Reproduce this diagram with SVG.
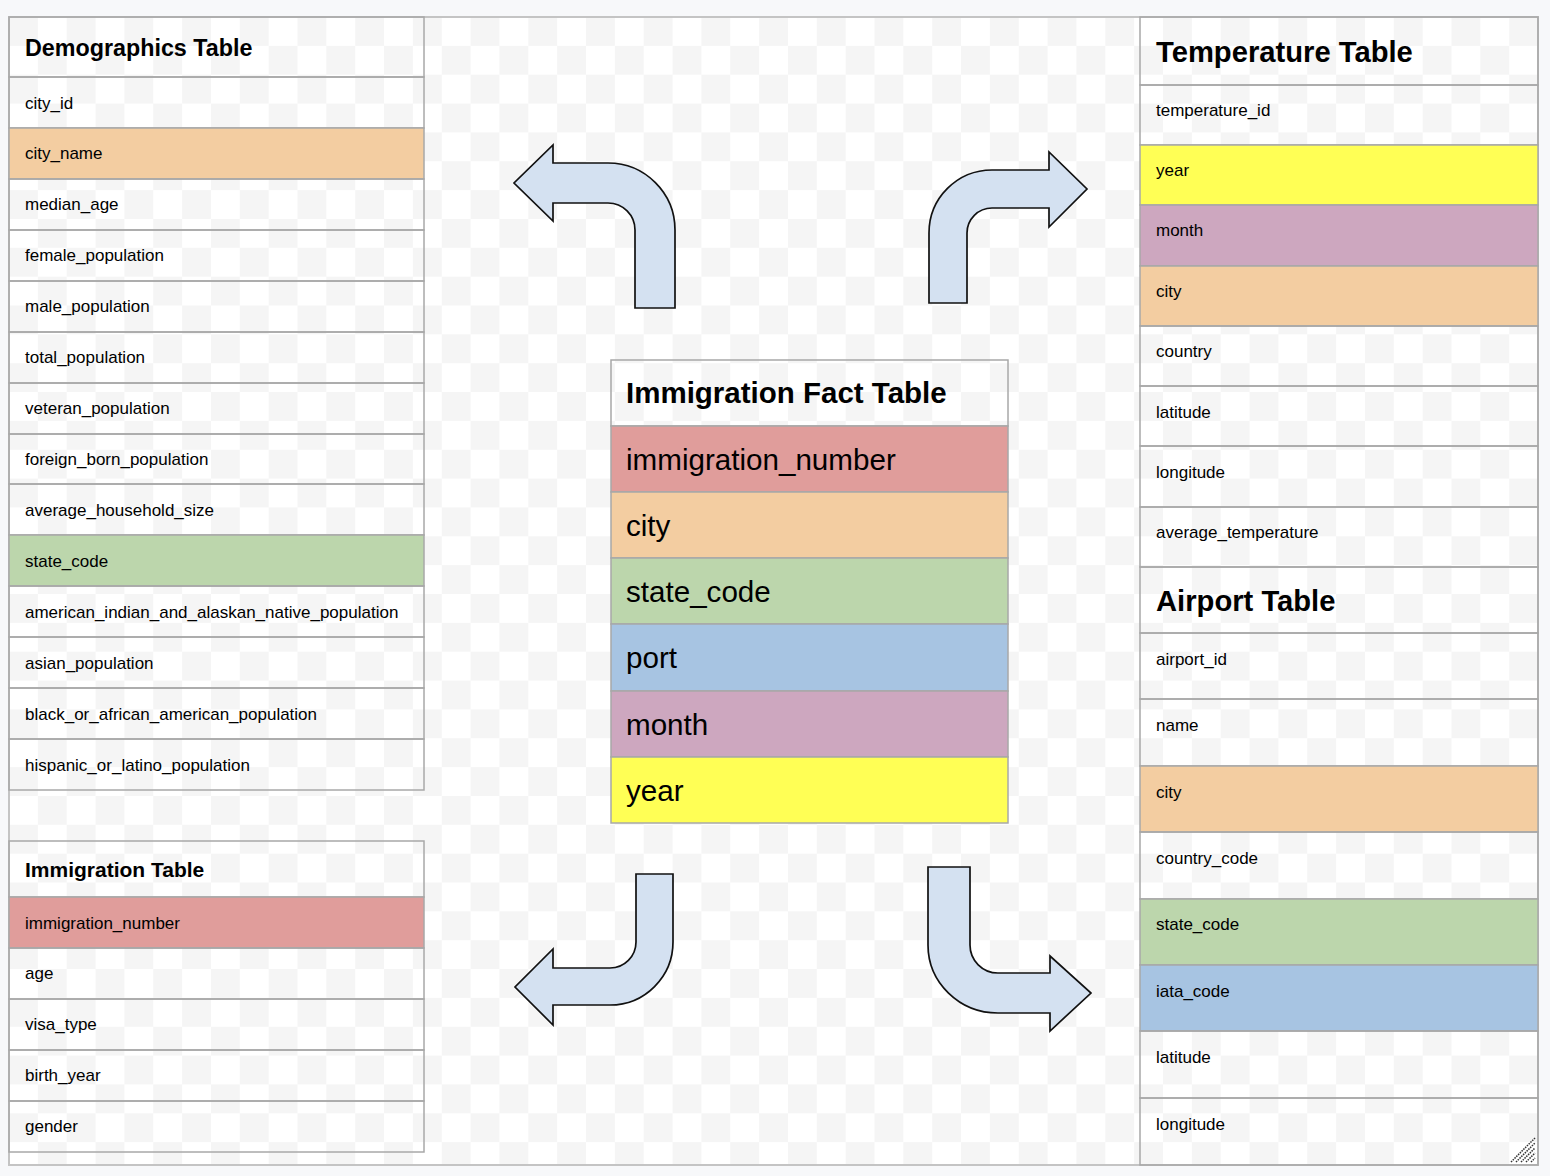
<svg xmlns="http://www.w3.org/2000/svg" width="1550" height="1176" viewBox="0 0 1550 1176">
<style>
.row{fill:none;stroke:#a8a8a8;stroke-width:1.5}
.hdr{fill:none;stroke:#a8a8a8;stroke-width:1.5}
.t{font-family:"Liberation Sans",Arial,sans-serif;fill:#000}
.f{font-size:17px}
.ff{font-size:29.6px}
.h{font-weight:bold}
.arrow{fill:#d4e1f1;stroke:#111;stroke-width:1.7;stroke-linejoin:miter}
.or{fill:#f3cda1}
.rd{fill:#e09d9b}
.gr{fill:#bcd6ac}
.bl{fill:#a7c4e2}
.pu{fill:#cda7bf}
.ye{fill:#ffff55}
</style>
<defs>
<pattern id="chk" patternUnits="userSpaceOnUse" x="9" y="17" width="57.7" height="57.7">
<rect width="57.7" height="57.7" fill="#ffffff"/>
<rect width="28.85" height="28.85" fill="#f5f5f5"/>
<rect x="28.85" y="28.85" width="28.85" height="28.85" fill="#f5f5f5"/>
</pattern>
</defs>
<rect width="1550" height="1176" fill="#f7f8fa"/>
<rect x="9" y="17" width="1529" height="1148" fill="url(#chk)" stroke="#c4c4c4" stroke-width="2"/>

<g id="demographics">
<rect class="hdr" x="9" y="17" width="415" height="60"/>
<text class="t h" x="25" y="56" font-size="23.3">Demographics Table</text>
<rect class="row" x="9" y="77" width="415" height="51"/>
<rect class="row or" x="9" y="128" width="415" height="51"/>
<rect class="row" x="9" y="179" width="415" height="51"/>
<rect class="row" x="9" y="230" width="415" height="51"/>
<rect class="row" x="9" y="281" width="415" height="51"/>
<rect class="row" x="9" y="332" width="415" height="51"/>
<rect class="row" x="9" y="383" width="415" height="51"/>
<rect class="row" x="9" y="434" width="415" height="50"/>
<rect class="row" x="9" y="484" width="415" height="51"/>
<rect class="row gr" x="9" y="535" width="415" height="51"/>
<rect class="row" x="9" y="586" width="415" height="51"/>
<rect class="row" x="9" y="637" width="415" height="51"/>
<rect class="row" x="9" y="688" width="415" height="51"/>
<rect class="row" x="9" y="739" width="415" height="51"/>
<text class="t f" x="25" y="109">city_id</text>
<text class="t f" x="25" y="159">city_name</text>
<text class="t f" x="25" y="210">median_age</text>
<text class="t f" x="25" y="261">female_population</text>
<text class="t f" x="25" y="312">male_population</text>
<text class="t f" x="25" y="363">total_population</text>
<text class="t f" x="25" y="414">veteran_population</text>
<text class="t f" x="25" y="465">foreign_born_population</text>
<text class="t f" x="25" y="516">average_household_size</text>
<text class="t f" x="25" y="567">state_code</text>
<text class="t f" x="25" y="618">american_indian_and_alaskan_native_population</text>
<text class="t f" x="25" y="669">asian_population</text>
<text class="t f" x="25" y="720">black_or_african_american_population</text>
<text class="t f" x="25" y="771">hispanic_or_latino_population</text>
</g>

<g id="immigration">
<rect class="hdr" x="9" y="841" width="415" height="56"/>
<text class="t h" x="25" y="877" font-size="21">Immigration Table</text>
<rect class="row rd" x="9" y="897" width="415" height="51"/>
<rect class="row" x="9" y="948" width="415" height="51"/>
<rect class="row" x="9" y="999" width="415" height="51"/>
<rect class="row" x="9" y="1050" width="415" height="51"/>
<rect class="row" x="9" y="1101" width="415" height="51"/>
<text class="t f" x="25" y="929">immigration_number</text>
<text class="t f" x="25" y="979">age</text>
<text class="t f" x="25" y="1030">visa_type</text>
<text class="t f" x="25" y="1081">birth_year</text>
<text class="t f" x="25" y="1132">gender</text>
</g>

<g id="fact">
<rect class="hdr" x="611" y="360" width="397" height="66"/>
<text class="t h" x="626" y="403" font-size="29.5">Immigration Fact Table</text>
<rect class="row rd" x="611" y="426" width="397" height="66"/>
<rect class="row or" x="611" y="492" width="397" height="66"/>
<rect class="row gr" x="611" y="558" width="397" height="66"/>
<rect class="row bl" x="611" y="624" width="397" height="67"/>
<rect class="row pu" x="611" y="691" width="397" height="66"/>
<rect class="row ye" x="611" y="757" width="397" height="66"/>
<text class="t ff" x="626" y="470">immigration_number</text>
<text class="t ff" x="626" y="536">city</text>
<text class="t ff" x="626" y="602">state_code</text>
<text class="t ff" x="626" y="668">port</text>
<text class="t ff" x="626" y="735">month</text>
<text class="t ff" x="626" y="801">year</text>
</g>

<g id="temperature">
<rect class="hdr" x="1140" y="17" width="398" height="68"/>
<text class="t h" x="1156" y="62" font-size="29.2">Temperature Table</text>
<rect class="row" x="1140" y="85" width="398" height="60"/>
<rect class="row ye" x="1140" y="145" width="398" height="60"/>
<rect class="row pu" x="1140" y="205" width="398" height="61"/>
<rect class="row or" x="1140" y="266" width="398" height="60"/>
<rect class="row" x="1140" y="326" width="398" height="60"/>
<rect class="row" x="1140" y="386" width="398" height="60"/>
<rect class="row" x="1140" y="446" width="398" height="61"/>
<rect class="row" x="1140" y="507" width="398" height="60"/>
<text class="t f" x="1156" y="116">temperature_id</text>
<text class="t f" x="1156" y="176">year</text>
<text class="t f" x="1156" y="236">month</text>
<text class="t f" x="1156" y="297">city</text>
<text class="t f" x="1156" y="357">country</text>
<text class="t f" x="1156" y="418">latitude</text>
<text class="t f" x="1156" y="478">longitude</text>
<text class="t f" x="1156" y="538">average_temperature</text>
</g>

<g id="airport">
<rect class="hdr" x="1140" y="567" width="398" height="66"/>
<text class="t h" x="1156" y="611" font-size="29.2">Airport Table</text>
<rect class="row" x="1140" y="633" width="398" height="66"/>
<rect class="row" x="1140" y="699" width="398" height="67"/>
<rect class="row or" x="1140" y="766" width="398" height="66"/>
<rect class="row" x="1140" y="832" width="398" height="67"/>
<rect class="row gr" x="1140" y="899" width="398" height="66"/>
<rect class="row bl" x="1140" y="965" width="398" height="66"/>
<rect class="row" x="1140" y="1031" width="398" height="67"/>
<rect class="row" x="1140" y="1098" width="398" height="67"/>
<text class="t f" x="1156" y="665">airport_id</text>
<text class="t f" x="1156" y="731">name</text>
<text class="t f" x="1156" y="798">city</text>
<text class="t f" x="1156" y="864">country_code</text>
<text class="t f" x="1156" y="930">state_code</text>
<text class="t f" x="1156" y="997">iata_code</text>
<text class="t f" x="1156" y="1063">latitude</text>
<text class="t f" x="1156" y="1130">longitude</text>
</g>

<g id="connectors">
<path class="arrow" d="M 635 308 L 675 308 L 675 230 A 67 67 0 0 0 608 163 L 553 163 L 553 145 L 514 183 L 553 221 L 553 203 L 608 203 A 27 27 0 0 1 635 230 Z"/>
<path class="arrow" d="M 929 303 L 929 233 A 63 63 0 0 1 992 170 L 1049 170 L 1049 152 L 1087 189 L 1049 227 L 1049 208 L 992 208 A 25 25 0 0 0 967 233 L 967 303 Z"/>
<path class="arrow" d="M 636 874 L 673 874 L 673 942 A 63 63 0 0 1 610 1005 L 553 1005 L 553 1025 L 515 987 L 553 949 L 553 968 L 610 968 A 26 26 0 0 0 636 942 Z"/>
<path class="arrow" d="M 928 867 L 970 867 L 970 945 A 28 28 0 0 0 998 973 L 1050 973 L 1050 956 L 1091 993 L 1050 1031 L 1050 1013 L 998 1013 A 70 68 0 0 1 928 945 Z"/>
</g>

<g id="resize-handle" stroke="#333" stroke-width="1.5" stroke-dasharray="1.5 1">
<line x1="1511" y1="1162" x2="1535" y2="1138"/>
<line x1="1516" y1="1162" x2="1535" y2="1143"/>
<line x1="1521" y1="1162" x2="1535" y2="1148"/>
<line x1="1526" y1="1162" x2="1535" y2="1153"/>
<line x1="1531" y1="1162" x2="1535" y2="1158"/>
</g>
</svg>
